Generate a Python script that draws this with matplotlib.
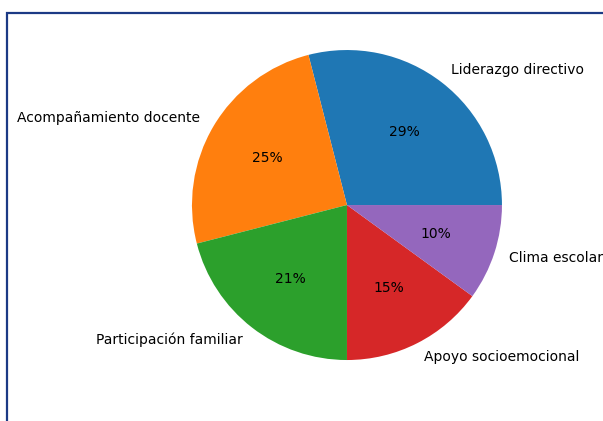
import matplotlib.pyplot as plt
from matplotlib.patches import Rectangle

# datos del gráfico
categorias = ["Liderazgo directivo", "Acompañamiento docente", "Participación familiar",
              "Apoyo socioemocional", "Clima escolar"]
valores = [29, 25, 21, 15, 10]

fig = plt.figure(figsize=(6.03, 4.21), dpi=100)

# marco azul (recortado a la derecha y abajo)
marco = Rectangle((7 / 603, -0.1), 1.2, 1 - 13 / 421 + 0.1, transform=fig.transFigure,
                  fill=False, edgecolor="#1c3a85", linewidth=1.6)
fig.patches.append(marco)

ax = fig.add_axes([0.2541, 0.0528, 0.6426, 0.9204])
ax.pie(valores, labels=categorias, autopct="%1.0f%%",
       textprops={"fontsize": 10})
ax.set_xlim(-1.25, 1.25)
ax.set_ylim(-1.25, 1.25)

fig.savefig("out.png", dpi=100)
